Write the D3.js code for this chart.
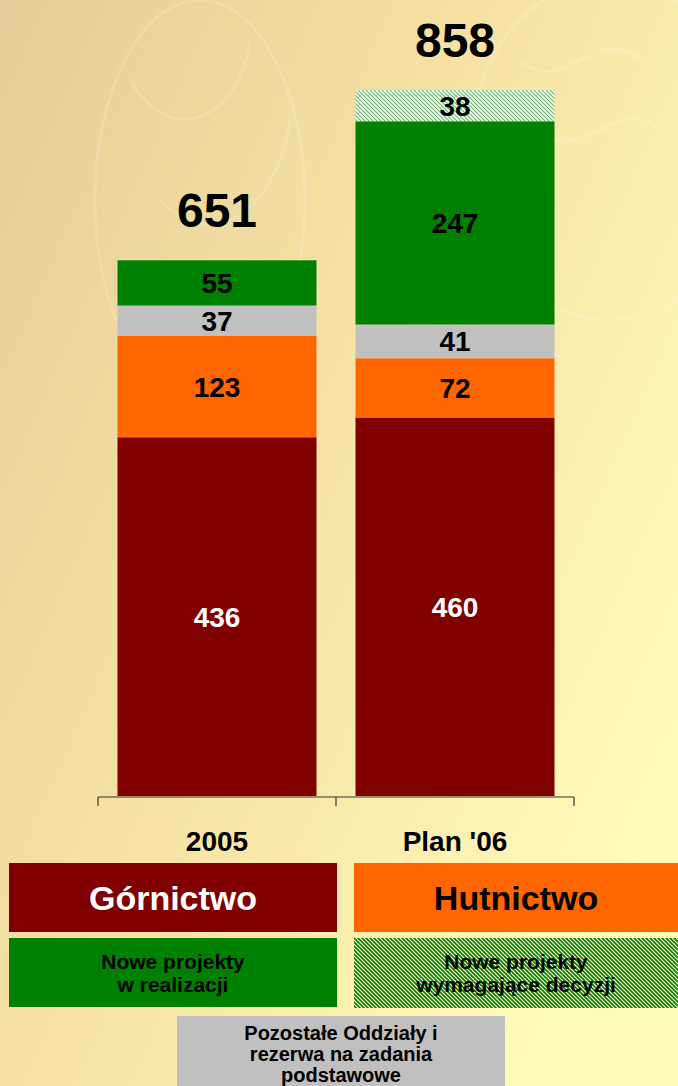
<!DOCTYPE html>
<html>
<head>
<meta charset="utf-8">
<script src="https://cdn.jsdelivr.net/npm/d3@7"></script>
<style>
  html, body { margin: 0; padding: 0; }
  svg { display: block; font-family: Arial, "Liberation Sans", sans-serif; }
</style>
</head>
<body>
<svg width="678" height="1086"></svg>
<script>
// chart data
const categories = ["2005", "Plan '06"];
const gornictwo = [436, 460];
const hutnictwo = [123, 72];
const pozostale = [37, 41];
const noweRealizacja = [55, 247];
const noweDecyzja = [0, 38];
const totals = [651, 858];

const seriesKeys = ["gornictwo", "hutnictwo", "pozostale", "noweRealizacja", "noweDecyzja"];
const seriesColors = {
    gornictwo: "#800000",
    hutnictwo: "#FF6600",
    pozostale: "#C0C0C0",
    noweRealizacja: "#008000",
    noweDecyzja: "url(#hatchBar)"
};
const labelColors = { gornictwo: "#fff" };

window.addEventListener('load', () => {
    const svg = d3.select("svg");
    const defs = svg.append("defs");

    // background gradient
    const grad = defs.append("linearGradient").attr("id", "bg")
        .attr("x1", "0").attr("y1", "0").attr("x2", "1").attr("y2", "0.7");
    grad.append("stop").attr("offset", "0").attr("stop-color", "#E4CD98");
    grad.append("stop").attr("offset", "0.5").attr("stop-color", "#F6E2A4");
    grad.append("stop").attr("offset", "1").attr("stop-color", "#FFFBBA");
    svg.append("rect").attr("width", 678).attr("height", 1086).attr("fill", "url(#bg)");

    // faint decorative curves in the background
    const deco = svg.append("g").attr("fill", "none").attr("stroke", "#fff")
        .attr("stroke-opacity", 0.16).attr("stroke-width", 3);
    deco.append("ellipse").attr("cx", 200).attr("cy", 200).attr("rx", 105).attr("ry", 200);
    deco.append("path").attr("d", "M130,80 C170,150 240,120 250,40 M160,200 C220,260 280,200 290,120");
    deco.append("ellipse").attr("cx", 610).attr("cy", 150).attr("rx", 140).attr("ry", 170);
    deco.append("path").attr("d", "M520,60 C560,100 600,20 640,60 M540,130 C580,170 620,90 660,130");

    // hatch patterns
    function hatch(id, bg, stroke, sw) {
        const p = defs.append("pattern").attr("id", id).attr("patternUnits", "userSpaceOnUse")
            .attr("width", 4).attr("height", 4);
        p.append("rect").attr("width", 4).attr("height", 4).attr("fill", bg);
        p.append("path").attr("d", "M-1,-1 L5,5 M-1,3 L1,5 M3,-1 L5,1")
            .attr("stroke", stroke).attr("stroke-width", sw);
    }
    hatch("hatchBar", "#FFFFFF", "#66BB66", 1.2);
    hatch("hatchLegend", "#FFFFC8", "#008000", 1.6);

    const data = categories.map((c, i) => ({
        category: c,
        gornictwo: gornictwo[i],
        hutnictwo: hutnictwo[i],
        pozostale: pozostale[i],
        noweRealizacja: noweRealizacja[i],
        noweDecyzja: noweDecyzja[i],
        total: totals[i]
    }));

    const xScale = d3.scaleBand().domain(categories).range([98, 574])
        .paddingInner(0.164).paddingOuter(0.082);
    const yScale = d3.scaleLinear().domain([0, d3.max(totals)]).range([796, 90]);

    const stacked = d3.stack().keys(seriesKeys)(data);

    const layers = svg.append("g").selectAll("g")
        .data(stacked)
        .enter().append("g")
        .attr("fill", d => seriesColors[d.key]);

    layers.selectAll("rect")
        .data(d => d.filter(s => s[1] > s[0]))
        .enter().append("rect")
        .attr("x", d => xScale(d.data.category))
        .attr("y", d => yScale(d[1]))
        .attr("width", xScale.bandwidth())
        .attr("height", d => yScale(d[0]) - yScale(d[1]));

    // segment labels
    stacked.forEach(layer => {
        svg.append("g").selectAll("text")
            .data(layer.filter(s => s[1] > s[0]))
            .enter().append("text")
            .attr("x", d => xScale(d.data.category) + xScale.bandwidth() / 2)
            .attr("y", d => (yScale(d[0]) + yScale(d[1])) / 2)
            .attr("dy", "0.36em")
            .attr("text-anchor", "middle")
            .style("font-size", "28px")
            .style("font-weight", "bold")
            .attr("fill", labelColors[layer.key] || "#000")
            .text(d => d[1] - d[0]);
    });

    // totals above bars
    svg.append("g").selectAll("text")
        .data(data)
        .enter().append("text")
        .attr("x", d => xScale(d.category) + xScale.bandwidth() / 2)
        .attr("y", d => yScale(d.total) - 33)
        .attr("text-anchor", "middle")
        .style("font-size", "48px")
        .style("font-weight", "bold")
        .attr("fill", "#000")
        .text(d => d.total);

    // axis line with ticks between categories
    const [x0, x1] = xScale.range();
    const tickX = d3.range(categories.length + 1).map(i => x0 + i * xScale.step());
    const axis = svg.append("g").attr("stroke", "#333").attr("stroke-width", 1.2).attr("fill", "none");
    axis.append("path").attr("d", `M${x0},797 H${x1}`);
    axis.selectAll("line").data(tickX).enter().append("line")
        .attr("x1", d => d).attr("x2", d => d).attr("y1", 797).attr("y2", 806);

    svg.append("g").selectAll("text")
        .data(categories)
        .enter().append("text")
        .attr("x", d => xScale(d) + xScale.bandwidth() / 2)
        .attr("y", 851)
        .attr("text-anchor", "middle")
        .style("font-size", "28px")
        .style("font-weight", "bold")
        .text(d => d);

    // legend boxes
    const legend = [
        { fill: "#800000", x: 9, y: 863, w: 328, h: 69, lines: ["Górnictwo"], size: 34, color: "#fff", base: 910 },
        { fill: "#FF6600", x: 354, y: 863, w: 324, h: 69, lines: ["Hutnictwo"], size: 34, color: "#000", base: 910 },
        { fill: "#008000", x: 9, y: 938, w: 328, h: 69, lines: ["Nowe projekty", "w realizacji"], size: 21, color: "#000", base: 969, lh: 23 },
        { fill: "url(#hatchLegend)", x: 354, y: 938, w: 324, h: 70, lines: ["Nowe projekty", "wymagające decyzji"], size: 21, color: "#000", base: 969, lh: 23 },
        { fill: "#C0C0C0", x: 177, y: 1016, w: 328, h: 80, lines: ["Pozostałe Oddziały i", "rezerwa na zadania", "podstawowe"], size: 20, color: "#000", base: 1040, lh: 21 }
    ];
    const lg = svg.append("g").selectAll("g").data(legend).enter().append("g");
    lg.append("rect")
        .attr("x", d => d.x).attr("y", d => d.y)
        .attr("width", d => d.w).attr("height", d => d.h)
        .attr("fill", d => d.fill);
    lg.each(function (d) {
        const t = d3.select(this).append("text")
            .attr("text-anchor", "middle")
            .style("font-size", d.size + "px")
            .style("font-weight", "bold")
            .attr("fill", d.color);
        d.lines.forEach((line, i) => {
            t.append("tspan")
                .attr("x", d.x + d.w / 2)
                .attr("y", d.base + i * (d.lh || 0))
                .text(line);
        });
    });
});
</script>
</body>
</html>
